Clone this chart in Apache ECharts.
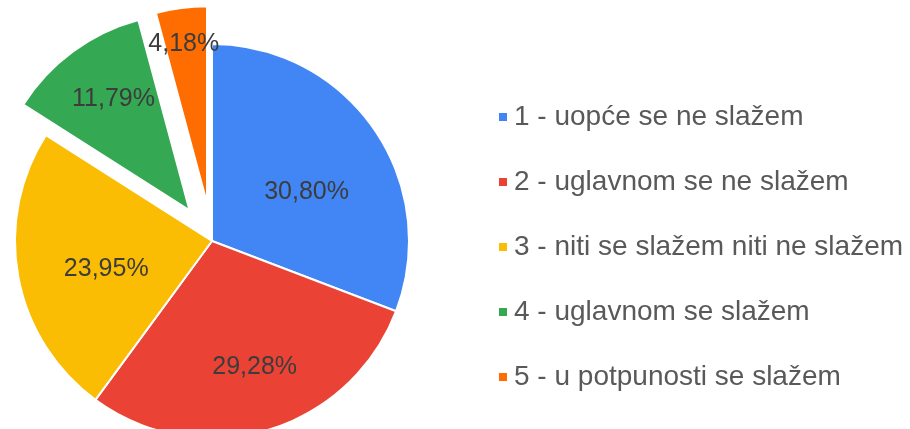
<!DOCTYPE html>
<html>
<head>
<meta charset="utf-8">
<script src="https://cdn.jsdelivr.net/npm/echarts@6/dist/echarts.min.js"></script>
<style>
html,body{margin:0;padding:0;background:#fff;}
#c{width:910px;height:429px;}
</style>
</head>
<body>
<div id="c"></div>
<script>
const categories = [
  '1 - uopće se ne slažem',
  '2 - uglavnom se ne slažem',
  '3 - niti se slažem niti ne slažem',
  '4 - uglavnom se slažem',
  '5 - u potpunosti se slažem'
];
const values = [30.80, 29.28, 23.95, 11.79, 4.18];
const colors = ['#4285f4', '#ea4335', '#fbbc04', '#34a853', '#ff6d01'];
const explodedIndices = [3, 4];
const labelNudges = [[11, 9], [14, 29], [-6, 9], [-16, -29], [-10, -59]];

const data = categories.map((name, i) => ({
  name: name,
  value: values[i],
  itemStyle: { color: colors[i] },
  label: { offset: labelNudges[i] },
  select: { label: { offset: labelNudges[i] } }
}));

const chart = echarts.init(document.getElementById('c'), null, { renderer: 'canvas' });
chart.setOption({
  animation: false,
  backgroundColor: '#ffffff',
  legend: {
    orient: 'vertical',
    left: 492,
    top: 98,
    icon: 'rect',
    itemWidth: 10,
    itemHeight: 10,
    itemGap: 37,
    selectedMode: false,
    textStyle: {
      fontFamily: 'Liberation Sans, Arial, sans-serif',
      fontSize: 28,
      color: '#595959',
      padding: [0, 0, 0, 1]
    },
    data: categories
  },
  series: [{
    type: 'pie',
    center: [212, 241],
    radius: ['0%', 197],
    startAngle: 90,
    clockwise: true,
    selectedMode: 'multiple',
    selectedOffset: 38,
    avoidLabelOverlap: false,
    itemStyle: { borderColor: '#ffffff', borderWidth: 2 },
    label: {
      show: true,
      position: 'inside',
      formatter: p => p.value.toFixed(2).replace('.', ',') + '%',
      fontFamily: 'Liberation Sans, Arial, sans-serif',
      fontSize: 25,
      color: '#3c3c3c'
    },
    labelLine: { show: false },
    emphasis: { disabled: true },
    data: data
  }]
});
chart.dispatchAction({ type: 'select', seriesIndex: 0, dataIndex: explodedIndices });
</script>
</body>
</html>
